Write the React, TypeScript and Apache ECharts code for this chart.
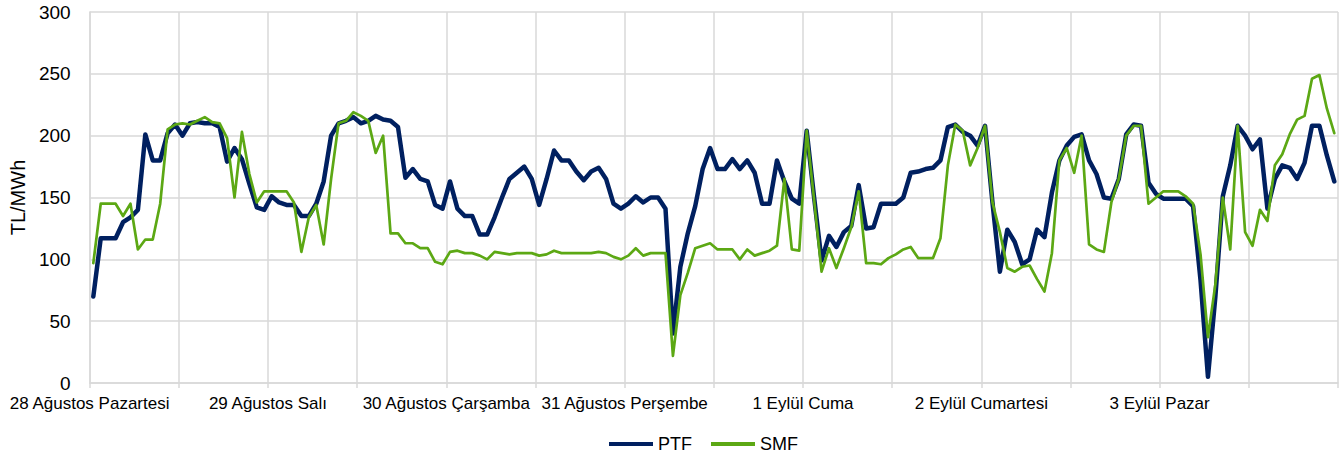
import React, { useEffect, useRef } from "react";
import * as echarts from "echarts";

const dayLabels = [
  "28 Ağustos Pazartesi",
  "29 Ağustos Salı",
  "30 Ağustos Çarşamba",
  "31 Ağustos Perşembe",
  "1 Eylül Cuma",
  "2 Eylül Cumartesi",
  "3 Eylül Pazar",
];

const yTicks = [0, 50, 100, 150, 200, 250, 300];

const ptf = [
  70, 117, 117, 117, 130, 134, 140, 201, 180, 180, 202, 209,
  200, 210, 211, 210, 210, 207, 179, 190, 181, 161, 142, 140,
  151, 146, 144, 144, 135, 135, 145, 163, 200, 210, 212, 215,
  210, 212, 216, 213, 212, 207, 166, 173, 165, 163, 144, 141,
  163, 141, 135, 135, 120, 120, 134, 150, 165, 170, 175, 165,
  144, 165, 188, 180, 180, 171, 164, 171, 174, 165, 145, 141,
  145, 151, 146, 150, 150, 141, 40, 94, 121, 143, 173, 190,
  173, 173, 181, 173, 180, 170, 145, 145, 180, 163, 149, 145,
  204, 150, 99, 119, 110, 122, 127, 160, 125, 126, 145, 145,
  145, 150, 170, 171, 173, 174, 180, 207, 209, 203, 200, 192,
  208, 146, 90, 124, 114, 96, 100, 124, 118, 154, 180, 192,
  199, 201, 180, 169, 150, 149, 165, 201, 209, 208, 162, 153,
  149, 149, 149, 149, 143, 83, 5, 70, 151, 176, 208, 200,
  189, 197, 141, 165, 176, 174, 165, 178, 208, 208, 184, 163,
];

const smf = [
  97, 145, 145, 145, 135, 145, 108, 116, 116, 145, 205, 209,
  210, 209, 212, 215, 211, 210, 198, 150, 203, 169, 146, 155,
  155, 155, 155, 146, 106, 134, 144, 112, 165, 210, 212, 219,
  216, 212, 186, 200, 121, 121, 113, 113, 109, 109, 98, 96,
  106, 107, 105, 105, 103, 100, 106, 105, 104, 105, 105, 105,
  103, 104, 107, 105, 105, 105, 105, 105, 106, 105, 102, 100,
  103, 109, 103, 105, 105, 105, 22, 71, 89, 109, 111, 113,
  108, 108, 108, 100, 108, 103, 105, 107, 111, 165, 108, 107,
  204, 148, 90, 109, 93, 109, 126, 155, 97, 97, 96, 101,
  104, 108, 110, 101, 101, 101, 117, 176, 209, 204, 176, 190,
  208, 146, 122, 93, 90, 94, 95, 84, 74, 105, 180, 190,
  170, 200, 112, 108, 106, 146, 165, 200, 208, 208, 145, 150,
  155, 155, 155, 151, 145, 104, 37, 80, 150, 108, 208, 122,
  111, 140, 131, 176, 185, 201, 213, 216, 246, 249, 222, 202,
];

const hours = dayLabels.flatMap((d) =>
  Array.from({ length: 24 }, (_, h) => `${d} ${String(h).padStart(2, "0")}:00`)
);

const FONT = "'Liberation Sans', Arial, sans-serif";
const GRID = "#d9d9d9";

export default function App() {
  const ref = useRef<HTMLDivElement>(null);
  useEffect(() => {
    if (!ref.current) return;
    const chart = echarts.init(ref.current, null, { renderer: "svg" });
    chart.setOption({
      animation: false,
      backgroundColor: "#ffffff",
      textStyle: { fontFamily: FONT },
      grid: { left: 85, right: 3, top: 12, bottom: 74, containLabel: false },
      legend: {
        top: 430,
        left: 604,
        itemGap: 19,
        itemWidth: 44,
        itemHeight: 4,
        icon: "rect",
        textStyle: { fontFamily: FONT, fontSize: 18, color: "#000" },
        data: ["PTF", "SMF"],
      },
      xAxis: [
        {
          type: "category",
          data: hours,
          boundaryGap: true,
          show: false,
        },
        {
          type: "value",
          min: 0,
          max: hours.length,
          interval: 12,
          position: "bottom",
          axisLine: { show: true, lineStyle: { color: GRID, width: 1.5 } },
          axisTick: { show: true, length: 5, lineStyle: { color: GRID, width: 1.5 } },
          splitLine: { show: true, lineStyle: { color: GRID, width: 1.5 } },
          axisLabel: {
            show: true,
            showMinLabel: true,
            showMaxLabel: true,
            margin: 12,
            fontFamily: FONT,
            fontSize: 17,
            color: "#000",
            formatter: (v: number) =>
              v % 24 === 0 && v / 24 < dayLabels.length ? dayLabels[v / 24] : "",
          },
        },
      ],
      yAxis: {
        type: "value",
        min: yTicks[0],
        max: yTicks[yTicks.length - 1],
        interval: 50,
        name: "TL/MWh",
        nameLocation: "middle",
        nameGap: 60,
        nameRotate: 90,
        nameTextStyle: { fontFamily: FONT, fontSize: 20, color: "#000" },
        axisLine: { show: true, lineStyle: { color: GRID, width: 1.5 } },
        axisTick: { show: false },
        splitLine: { show: true, lineStyle: { color: GRID, width: 1.5 } },
        axisLabel: { margin: 19, fontFamily: FONT, fontSize: 19, color: "#000" },
      },
      series: [
        {
          name: "PTF",
          type: "line",
          xAxisIndex: 0,
          data: ptf,
          showSymbol: false,
          symbol: "none",
          color: "#002060",
          lineStyle: { color: "#002060", width: 4.5, cap: "round", join: "round" },
          z: 2,
        },
        {
          name: "SMF",
          type: "line",
          xAxisIndex: 0,
          data: smf,
          showSymbol: false,
          symbol: "none",
          color: "#5CA814",
          lineStyle: { color: "#5CA814", width: 2.7, cap: "round", join: "round" },
          z: 3,
        },
      ],
    });
    return () => chart.dispose();
  }, []);
  return (
    <div
      ref={ref}
      style={{ position: "fixed", left: 0, top: 0, width: 1341, height: 457 }}
    />
  );
}
